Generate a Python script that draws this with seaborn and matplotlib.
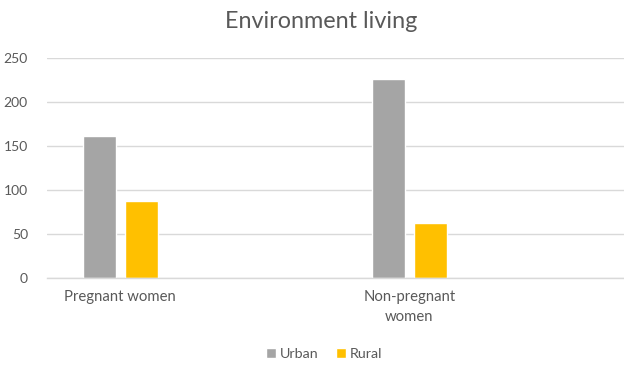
import matplotlib
matplotlib.use("Agg")
import matplotlib.pyplot as plt
import seaborn as sns
import pandas as pd

categories = ["Pregnant women", "Non-pregnant\nwomen"]
series_names = ["Urban", "Rural"]
urban = [162, 226]
rural = [87, 62]
yticks = [0, 50, 100, 150, 200, 250]

colors = {"Urban": "#A5A5A5", "Rural": "#FFC000"}
text_color = "#595959"
grid_color = "#D9D9D9"

df = pd.DataFrame({
    "category": categories * 2,
    "series": [series_names[0]] * len(categories) + [series_names[1]] * len(categories),
    "value": urban + rural,
})

sns.set_theme(style="white")
plt.rcParams["font.family"] = ["Lato", "DejaVu Sans"]

fig = plt.figure(figsize=(6.24, 3.65), dpi=100)
W, H = 624, 365
left, right, top, bottom = 47.3, 624, 58.3, 277.7
ax = fig.add_axes([left / W, 1 - bottom / H, (right - left) / W, (bottom - top) / H])

sns.barplot(data=df, x="category", y="value", hue="series", order=categories,
            hue_order=series_names, palette=colors, width=0.29, gap=0.21,
            saturation=1, ax=ax, legend=True)

ax.set_ylim(0, 250)
ax.set_xlim(-0.2526, 1.743)
ax.set_yticks(yticks)
ax.set_yticklabels([str(t) for t in yticks])
ax.yaxis.grid(True, color=grid_color, linewidth=1)
ax.set_axisbelow(True)
for s in ["left", "right", "top"]:
    ax.spines[s].set_visible(False)
ax.spines["bottom"].set_color(grid_color)
ax.spines["bottom"].set_linewidth(1)
ax.tick_params(axis="y", length=0, labelsize=10, colors=text_color, pad=14)
ax.tick_params(axis="x", length=0, labelsize=10.7, colors=text_color, pad=9)
for lbl in ax.get_xticklabels():
    lbl.set_linespacing(1.55)
ax.set_xlabel("")
ax.set_ylabel("")

fig.text(321 / W, 1 - 21 / H, "Environment living", ha="center", va="center",
         fontsize=16.8, color=text_color)

handles, labels = ax.get_legend_handles_labels()
ax.legend_.remove()
fig.legend(handles, labels, loc="center", bbox_to_anchor=(324 / W, 1 - 354 / H),
           ncol=2, frameon=False, fontsize=10.3, labelcolor=text_color,
           handlelength=0.7, handleheight=0.7, handletextpad=0.3, columnspacing=1.2)

fig.savefig("out.png", dpi=100)
